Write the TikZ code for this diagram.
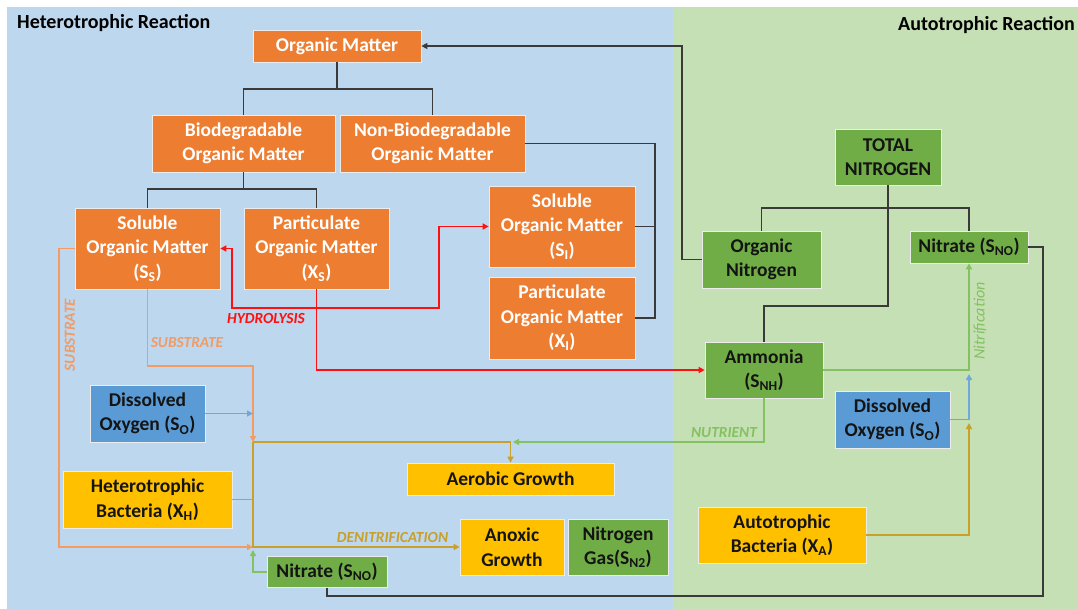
\documentclass[tikz,border=0pt]{standalone}
\usepackage{fontspec}
\setmainfont{Carlito}
\usetikzlibrary{arrows.meta}
\definecolor{bgblue}{HTML}{BDD7EE}
\definecolor{bggreen}{HTML}{C5E0B4}
\definecolor{boxorange}{HTML}{ED7D31}
\definecolor{boxgreen}{HTML}{70AD47}
\definecolor{boxblue}{HTML}{5B9BD5}
\definecolor{boxyellow}{HTML}{FFC000}
\definecolor{lnorange}{HTML}{F29B64}
\definecolor{lngold}{HTML}{C9A02A}
\definecolor{lngreen}{HTML}{84C160}
\definecolor{lnblue}{HTML}{6FA8DC}
\definecolor{lnred}{HTML}{FF1010}
\definecolor{lndark}{HTML}{3A3A3A}
\definecolor{txdark}{HTML}{141414}
\begin{document}
\begin{tikzpicture}[x=1pt,y=-1pt,
  >={Triangle[length=6pt,width=6pt]},
  box/.style={draw=white!85!gray, line width=0.7pt, inner sep=0pt, align=center,
    font=\bfseries\fontsize{19.5}{24.5}\selectfont},
  obox/.style={box, fill=boxorange, text=white},
  gbox/.style={box, fill=boxgreen, text=txdark},
  bbox/.style={box, fill=boxblue, text=txdark},
  ybox/.style={box, fill=boxyellow, text=txdark},
  kline/.style={draw=lndark, line width=1.2pt},
  rline/.style={draw=lnred, line width=1.7pt},
  oline/.style={draw=lnorange, line width=1.7pt},
  yline/.style={draw=lngold, line width=1.7pt},
  gline/.style={draw=lngreen, line width=1.7pt},
  bline/.style={draw=lnblue, line width=1.7pt},
  lbl/.style={font=\bfseries\itshape\fontsize{15.4}{18}\selectfont, inner sep=0pt},
  title/.style={font=\bfseries\fontsize{20}{24}\selectfont, inner sep=0pt, text=black}
]
\useasboundingbox (0,0) rectangle (1078,609);
\fill[bgblue] (7,7) rectangle (673,609);
\fill[bggreen] (673,7) rectangle (1078,609);

\node[title, anchor=west] (tH) at (17,23) {Heterotrophic Reaction};
\node[title, anchor=east] (tA) at (1075,25) {Autotrophic Reaction};

% heterotrophic boxes
\node[obox, minimum width=168pt, minimum height=32pt] (OM) at (337,46) {Organic Matter};
\node[obox, minimum width=183pt, minimum height=57pt] (Bio) at (243.5,143.5) {Biodegradable\\Organic Matter};
\node[obox, minimum width=185pt, minimum height=57pt] (NonBio) at (432.5,143.5) {Non-Biodegradable\\Organic Matter};
\node[obox, minimum width=145pt, minimum height=81pt] (SS) at (147.5,248.5) {Soluble\\Organic Matter\\(S\textsubscript{S})};
\node[obox, minimum width=145pt, minimum height=81pt] (XS) at (316.5,248.5) {Particulate\\Organic Matter\\(X\textsubscript{S})};
\node[obox, minimum width=146pt, minimum height=81pt] (SI) at (562,226.5) {Soluble\\Organic Matter\\(S\textsubscript{I})};
\node[obox, minimum width=146pt, minimum height=82pt] (XI) at (562,318) {Particulate\\Organic Matter\\(X\textsubscript{I})};
\node[bbox, minimum width=115pt, minimum height=57pt] (DOL) at (147.5,413.5) {Dissolved\\Oxygen (S\textsubscript{O})};
\node[ybox, minimum width=169pt, minimum height=57pt] (HB) at (147.5,499.5) {Heterotrophic\\Bacteria (X\textsubscript{H})};
\node[ybox, minimum width=207pt, minimum height=32pt] (Aer) at (510.5,479) {Aerobic Growth};
\node[ybox, minimum width=104pt, minimum height=56pt] (Anox) at (512,547) {Anoxic\\Growth};
\node[gbox, minimum width=100pt, minimum height=56pt] (NGas) at (618,547) {Nitrogen\\Gas(S\textsubscript{N2})};
\node[gbox, minimum width=120pt, minimum height=31pt] (NitL) at (327,572) {Nitrate (S\textsubscript{NO})};

% autotrophic boxes
\node[gbox, minimum width=106pt, minimum height=56pt] (TN) at (888,157) {TOTAL\\NITROGEN};
\node[gbox, minimum width=119pt, minimum height=57pt] (OrgN) at (761.5,259.5) {Organic\\Nitrogen};
\node[gbox, minimum width=118pt, minimum height=32pt] (NitR) at (969,247) {Nitrate (S\textsubscript{NO})};
\node[gbox, minimum width=118pt, minimum height=56pt] (Amm) at (764,370) {Ammonia\\(S\textsubscript{NH})};
\node[bbox, minimum width=115pt, minimum height=57pt] (DOR) at (892.5,419.5) {Dissolved\\Oxygen (S\textsubscript{O})};
\node[ybox, minimum width=168pt, minimum height=56pt] (AB) at (782,535) {Autotrophic\\Bacteria (X\textsubscript{A})};

% junctions
\coordinate (j1) at (337,89);
\coordinate (j2) at (243.5,189);
\coordinate (j3) at (655,143.5);
\coordinate (j4) at (888,208);
\coordinate (j5) at (888,306);
\coordinate (jA) at (253,442);
\coordinate (jB) at (253,547);

% tree lines
\draw[kline] (OM.south) -- (j1);
\draw[kline] (Bio.north) |- (j1) -| (NonBio.north);
\draw[kline] (Bio.south) -- (j2);
\draw[kline] (SS.north) |- (j2) -| (XS.north);
\draw[kline] (NonBio.east) -- (j3) |- (XI.east);
\draw[kline] (SI.east) -- (SI.east -| j3);
\draw[kline] (TN.south) -- (j4);
\draw[kline] (OrgN.north) |- (j4) -| (NitR.north);
\draw[kline] (j4) -- (j5) -| (Amm.north);
\draw[kline,->] (OrgN.west) -- (682,259.5) |- (OM.east);
\draw[kline] (NitL.south) |- (1043,596) |- (NitR.east);

% red hydrolysis
\draw[rline,->] (XS.south) |- (Amm.west);
\draw[rline,<->] (SS.east) -- (232,248.5) -- (232,308) -- (439,308) |- (SI.west);

% substrate
\draw[oline,->] (SS.south) -- (147.5,366) -| (jA);
\draw[oline,->] (SS.west) -- (59,248.5) |- (jB);
\draw[bline,->] (DOL.east) -- (DOL.east -| jA);

% gold
\draw[yline,->] (jA) -| (Aer.north);
\draw[yline,->] (jA) |- (Anox.west);
\draw[yline] (HB.east) -- (HB.east -| jA);

% green
\draw[gline,->] (Amm.south) |- (513,442);
\draw[gline,->] (NitL.west) -| (253,550);
\draw[gline,->] (Amm.east) -| (NitR.south);
\draw[bline,->] (DOR.east) -| (969,374);
\draw[yline,->] (AB.east) -| (969,423);

% labels
\node[lbl, text=lnred] (lHy) at (266,319) {HYDROLYSIS};
\node[lbl, text=lnorange] (lSu1) at (187,343) {SUBSTRATE};
\node[lbl, text=lnorange, rotate=90] (lSu2) at (70,335) {SUBSTRATE};
\node[lbl, text=lngreen] (lNu) at (724,433) {NUTRIENT};
\node[lbl, text=lngold] (lDe) at (392.5,537) {DENITRIFICATION};
\node[font=\itshape\fontsize{16}{18}\selectfont, inner sep=0pt, text=lngreen, rotate=90] (lNi) at (980,321) {Nitrification};
\end{tikzpicture}
\end{document}
